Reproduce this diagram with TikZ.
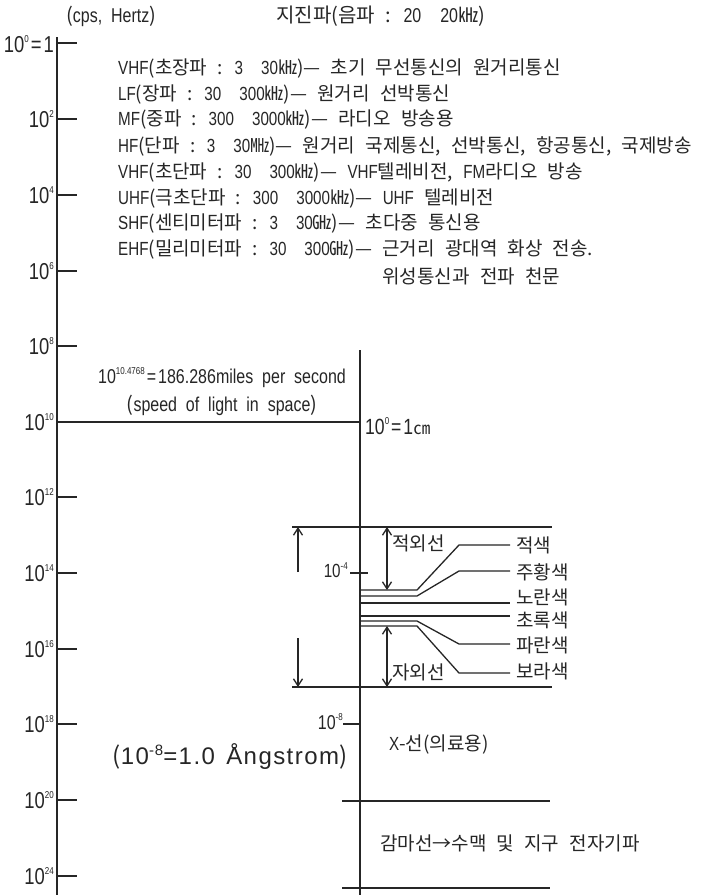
\documentclass[tikz,border=0pt]{standalone}
\usepackage{fontspec}
\usepackage{graphicx}
\setmainfont[WordSpace=2.4]{Noto Sans CJK KR}
\newfontfamily\nl[FakeStretch=0.8,WordSpace=2.0]{Liberation Sans}
\newfontfamily\arl[LetterSpace=6,WordSpace=1.4]{Liberation Sans}
\usetikzlibrary{arrows.meta}
\definecolor{ink}{HTML}{262626}
\newcommand\gp{\hspace{0.95em}}
\newcommand\sups[2][10pt]{\raisebox{#1}{\fontsize{10}{10}\selectfont #2}}
\newcommand\axf{\nl\fontsize{23}{23}\selectfont}
\newcommand\krf{\fontsize{19}{21}\selectfont}
\newcommand\hdf{\fontsize{20}{22}\selectfont}
\begin{document}
\begin{tikzpicture}[x=1pt,y=-1pt,
  axisline/.style={line width=2.6pt, draw=ink},
  thinline/.style={line width=1.3pt, draw=ink},
  kr/.style={inner sep=0pt, text=ink, font=\krf, anchor=west},
  alab/.style={inner sep=0pt, text=ink, font=\axf, anchor=east},
  barb/.style={thinline, {Straight Barb[length=7pt,width=9pt]}-{Straight Barb[length=7pt,width=9pt]}},
  onebarb/.style={thinline, -{Straight Barb[length=7pt,width=9pt]}}]
\fill[white] (0,0) rectangle (702,895);
\useasboundingbox (0,0) rectangle (702,895);

% headings
\node[kr, font=\hdf] (cps) at (66,16) {({\nl cps, Hertz})};
\node[kr, font=\hdf] (quake) at (276,16) {지진파(음파 : {\nl 20\gp 20}㎑)};

% left axis
\coordinate (la) at (57,37);
\coordinate (lb) at (57,895);
\draw[axisline] (la) -- (lb);
\node[alab] (p0) at (54,44) {10\sups{0}\hspace{2pt}=\hspace{2pt}1};
\draw[thinline] (57,43) -- (77,43);
\foreach \y/\e/\n in {119/2/a,195/4/b,271/6/c,346/8/d,422/10/e,497/12/f,573/14/g,649/16/h,724/18/i,800/20/j,876/24/k}{
  \node[alab] (p\n) at (54,\y) {10\sups{\e}};
  \draw[thinline] (57,\y) -- (77,\y);
}

% radio bands
\node[kr] (f1) at (118,69) {{\nl VHF}(초장파 : {\nl 3\gp30}㎑)— 초기 무선통신의 원거리통신};
\node[kr] (f2) at (118,95) {{\nl LF}(장파 : {\nl 30\gp300}㎑)— 원거리 선박통신};
\node[kr] (f3) at (118,120) {{\nl MF}(중파 : {\nl 300\gp3000}㎑)— 라디오 방송용};
\node[kr] (f4) at (118,146) {{\nl HF}(단파 : {\nl 3\gp30}㎒)— 원거리 국제통신, 선박통신, 항공통신, 국제방송};
\node[kr] (f5) at (118,172) {{\nl VHF}(초단파 : {\nl 30\gp300}㎑)— {\nl VHF}텔레비전, {\nl FM}라디오 방송};
\node[kr] (f6) at (118,198) {{\nl UHF}(극초단파 : {\nl 300\gp3000}㎑)— {\nl UHF} 텔레비전};
\node[kr] (f7) at (118,223) {{\nl SHF}(센티미터파 : {\nl 3\gp30}㎓)— 초다중 통신용};
\node[kr] (f8) at (118,249) {{\nl EHF}(밀리미터파 : {\nl 30\gp300}㎓)— 근거리 광대역 화상 전송.};
\node[kr] (f9) at (118,277) {\phantom{{\nl EHF}(밀리미터파 : {\nl 30\gp300}㎓)— }위성통신과 전파 천문};

% speed of light
\coordinate (ra) at (360,350);
\coordinate (rb) at (360,895);
\draw[axisline] (ra) -- (rb);
\draw[thinline] (57,422) -- (360,422);
\node[inner sep=0pt, text=ink, font=\nl\fontsize{20}{22}\selectfont] (sp1) at (222,378) {10\sups[9pt]{10.4768}\hspace{2pt}=\hspace{2pt}186.286miles per second};
\node[inner sep=0pt, text=ink, font=\hdf] (sp2) at (222,405) {({\nl speed of light in space})};
\node[kr, font=\nl\fontsize{22}{22}\selectfont] (cm) at (365,426) {10\sups{0}\hspace{2pt}=\hspace{2pt}1{\fontspec{Noto Sans CJK KR}\fontsize{17}{17}\selectfont ㎝}};

% visible band
\coordinate (vl1) at (292,527); \coordinate (vr1) at (552,527);
\coordinate (vl2) at (292,687); \coordinate (vr2) at (552,687);
\draw[thinline] (vl1) -- (vr1);
\draw[thinline] (vl2) -- (vr2);
\coordinate (vt) at (298,527); \coordinate (vtm) at (298,572);
\coordinate (vbm) at (298,638); \coordinate (vb) at (298,687);
\draw[onebarb] (vtm) -- (vt);
\draw[onebarb] (vbm) -- (vb);
\node[alab, font=\nl\fontsize{19}{19}\selectfont] (m4) at (348,570) {10\sups[8pt]{-4}};
\draw[thinline] (350,573) -- (368,573);
\coordinate (ir1) at (387,527); \coordinate (ir2) at (387,590);
\draw[barb] (ir1) -- (ir2);
\node[kr] (ir) at (392,543) {적외선};
\coordinate (uv1) at (387,626); \coordinate (uv2) at (387,687);
\draw[barb] (uv1) -- (uv2);
\node[kr] (uv) at (392,672) {자외선};

\draw[thinline] (360,590) -- (417,590) -- (459,545) -- (510,545);
\draw[thinline] (360,596) -- (417,596) -- (459,571) -- (510,571);
\draw[thinline] (360,603) -- (510,603);
\draw[thinline] (360,616) -- (510,616);
\draw[thinline] (360,621) -- (417,621) -- (459,644) -- (510,644);
\draw[thinline] (360,626) -- (417,626) -- (459,673) -- (510,673);
\node[kr] (c1) at (516,545) {적색};
\node[kr] (c2) at (516,572) {주황색};
\node[kr] (c3) at (516,597) {노란색};
\node[kr] (c4) at (516,620) {초록색};
\node[kr] (c5) at (516,645) {파란색};
\node[kr] (c6) at (516,671) {보라색};

% x-ray and gamma
\node[alab, font=\nl\fontsize{20}{20}\selectfont] (m8) at (343,722) {10\sups[9pt]{-8}};
\draw[thinline] (343,724) -- (360,724);
\node[kr] (xr) at (389,744) {{\nl X}-선(의료용)};
\node[inner sep=0pt, text=ink, font=\arl\fontsize{24}{24}\selectfont] (ang) at (230,757) {{\fontspec{Noto Sans CJK KR}(}10\raisebox{9pt}{\fontsize{15}{15}\selectfont -8}=1.0 Ångstrom{\fontspec{Noto Sans CJK KR})}};
\coordinate (g1) at (342,801); \coordinate (g2) at (550,801);
\draw[thinline] (g1) -- (g2);
\node[kr] (gm) at (380,843) {감마선→수맥 및 지구 전자기파};
\coordinate (g3) at (342,888); \coordinate (g4) at (550,888);
\draw[thinline] (g3) -- (g4);
\end{tikzpicture}
\end{document}
